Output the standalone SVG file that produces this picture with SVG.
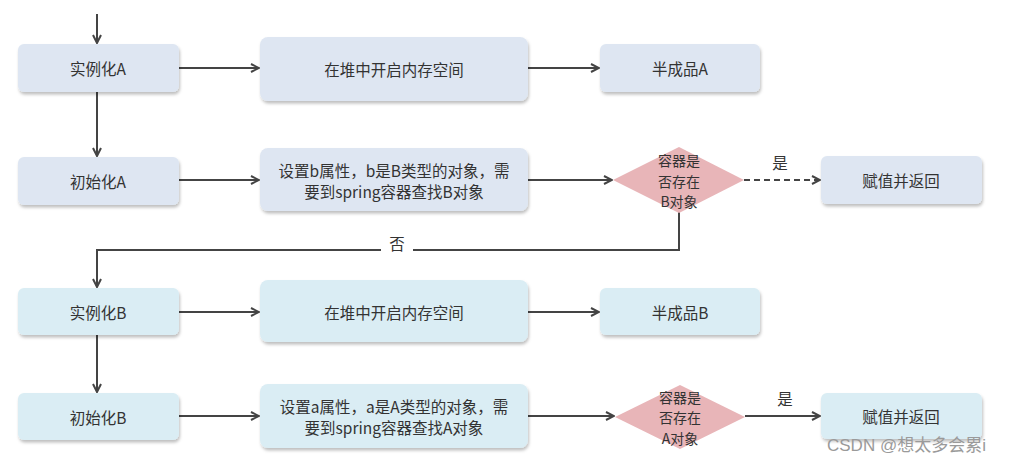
<svg xmlns="http://www.w3.org/2000/svg" width="1017" height="464" viewBox="0 0 1017 464">
<style>
.a{fill:#dee6f2}
.b{fill:#daedf4}
.d{fill:#e8b5b8}
.t{font-family:"Noto Sans CJK SC","Noto Sans",sans-serif;font-size:15.5px;fill:#333;text-anchor:middle;dominant-baseline:central}
.s{font-size:14px}
.w{font-family:"Liberation Sans","Noto Sans CJK SC",sans-serif;font-size:17px;fill:#9a9a9a}
.c{fill:none;stroke:#444;stroke-width:2}
</style>
<defs>
<filter id="sh" x="-10%" y="-10%" width="130%" height="140%">
<feDropShadow dx="1" dy="2.5" stdDeviation="1.5" flood-color="#000" flood-opacity="0.25"/>
</filter>
<marker id="ar" viewBox="0 0 10 10" refX="9" refY="5" markerWidth="10" markerHeight="10" markerUnits="userSpaceOnUse" orient="auto">
<path d="M1,1 L9,5 L1,9" fill="none" stroke="#444" stroke-width="2"/>
</marker>
</defs>
<rect width="1017" height="464" fill="#fff"/>
<g id="connectors">
<path class="c" d="M97,14 V43" marker-end="url(#ar)"/>
<path class="c" d="M179,68 H259" marker-end="url(#ar)"/>
<path class="c" d="M528,68 H599" marker-end="url(#ar)"/>
<path class="c" d="M97,92 V156" marker-end="url(#ar)"/>
<path class="c" d="M179,180 H259" marker-end="url(#ar)"/>
<path class="c" d="M528,180 H612" marker-end="url(#ar)"/>
<path class="c" d="M744,180 H820" stroke-dasharray="6,4" marker-end="url(#ar)"/>
<path class="c" d="M679,212 V250 H413"/>
<path class="c" d="M381,250 H97 V287" marker-end="url(#ar)"/>
<path class="c" d="M179,312 H259" marker-end="url(#ar)"/>
<path class="c" d="M528,312 H599" marker-end="url(#ar)"/>
<path class="c" d="M97,335 V392" marker-end="url(#ar)"/>
<path class="c" d="M179,416 H259" marker-end="url(#ar)"/>
<path class="c" d="M528,416 H614" marker-end="url(#ar)"/>
<path class="c" d="M745,416 H820" marker-end="url(#ar)"/>
<text class="t" x="397" y="243">否</text>
<text class="t" x="780" y="162">是</text>
<text class="t" x="785" y="398">是</text>
</g>
<g id="instA"><rect class="a" x="18" y="44" width="161" height="48" rx="6" filter="url(#sh)"/><text class="t" x="98" y="68">实例化A</text></g>
<g id="heapA"><rect class="a" x="260" y="37" width="268" height="64" rx="8" filter="url(#sh)"/><text class="t" x="394" y="69">在堆中开启内存空间</text></g>
<g id="halfA"><rect class="a" x="600" y="44" width="160" height="48" rx="6" filter="url(#sh)"/><text class="t" x="680" y="68">半成品A</text></g>
<g id="initA"><rect class="a" x="18" y="157" width="161" height="48" rx="6" filter="url(#sh)"/><text class="t" x="98" y="181">初始化A</text></g>
<g id="setB"><rect class="a" x="260" y="148" width="268" height="63" rx="8" filter="url(#sh)"/><text class="t" x="394" y="170">设置b属性，b是B类型的对象，需</text><text class="t" x="394" y="191">要到spring容器查找B对象</text></g>
<g id="decB"><polygon class="d" points="613,180 679,147 744,180 679,213"/><text class="t s" x="679" y="160">容器是</text><text class="t s" x="679" y="180.5">否存在</text><text class="t s" x="679" y="201">B对象</text></g>
<g id="retA"><rect class="a" x="821" y="156" width="161" height="48" rx="6" filter="url(#sh)"/><text class="t" x="901" y="180">赋值并返回</text></g>
<g id="instB"><rect class="b" x="18" y="288" width="161" height="47" rx="6" filter="url(#sh)"/><text class="t" x="98" y="312">实例化B</text></g>
<g id="heapB"><rect class="b" x="260" y="280" width="268" height="62" rx="8" filter="url(#sh)"/><text class="t" x="394" y="312">在堆中开启内存空间</text></g>
<g id="halfB"><rect class="b" x="600" y="288" width="160" height="47" rx="6" filter="url(#sh)"/><text class="t" x="680" y="312">半成品B</text></g>
<g id="initB"><rect class="b" x="18" y="393" width="161" height="47" rx="6" filter="url(#sh)"/><text class="t" x="98" y="417">初始化B</text></g>
<g id="setA"><rect class="b" x="260" y="384" width="268" height="64" rx="8" filter="url(#sh)"/><text class="t" x="394" y="406">设置a属性，a是A类型的对象，需</text><text class="t" x="394" y="427">要到spring容器查找A对象</text></g>
<g id="decA"><polygon class="d" points="615,417 680,385 745,417 680,449"/><text class="t s" x="680" y="396.5">容器是</text><text class="t s" x="680" y="417">否存在</text><text class="t s" x="680" y="437.5">A对象</text></g>
<g id="retB"><rect class="b" x="821" y="393" width="161" height="46" rx="6" filter="url(#sh)"/><text class="t" x="901" y="416">赋值并返回</text></g>
<text class="w" x="827" y="451">CSDN @想太多会累i</text>
</svg>
